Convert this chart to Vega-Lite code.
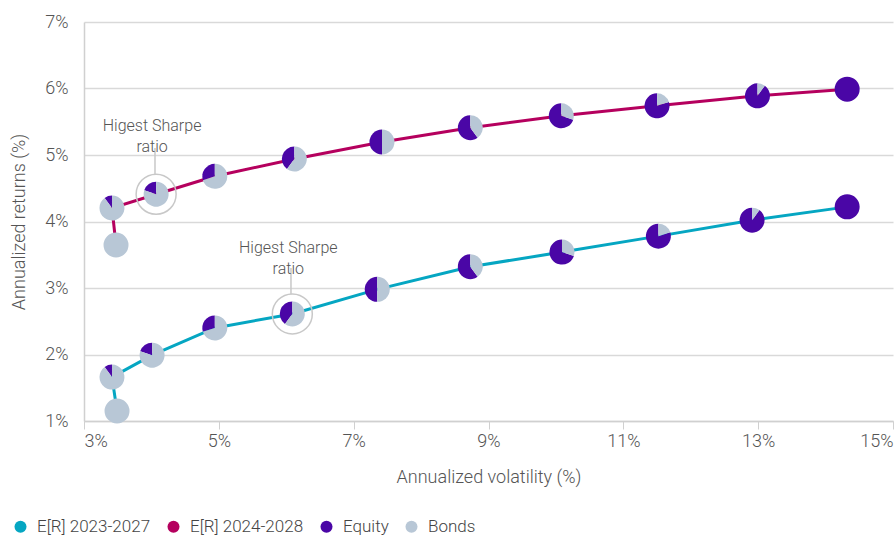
{
  "$schema": "https://vega.github.io/schema/vega-lite/v6.json",
  "width": 809,
  "height": 399,
  "autosize": {"type": "none"},
  "padding": {"left": 84, "top": 22, "right": 3, "bottom": 118},
  "background": "white",
  "config": {
    "view": {"stroke": null},
    "font": "Roboto",
    "axis": {"labelFont": "Roboto", "titleFont": "Roboto", "labelColor": "#555555", "titleColor": "#555555", "titleFontWeight": 300, "labelFontWeight": 300, "labelFontSize": 18, "titleFontSize": 18},
    "legend": {"labelFont": "Roboto", "labelFontWeight": 300}
  },
  "datasets": {
    "pts": [
      {"series": "E[R] 2024-2028", "equity": 0.0, "vol": 3.475, "ret": 3.647},
      {"series": "E[R] 2024-2028", "equity": 0.1, "vol": 3.415, "ret": 4.203},
      {"series": "E[R] 2024-2028", "equity": 0.2, "vol": 4.07, "ret": 4.41},
      {"series": "E[R] 2024-2028", "equity": 0.3, "vol": 4.94, "ret": 4.68},
      {"series": "E[R] 2024-2028", "equity": 0.4, "vol": 6.12, "ret": 4.94},
      {"series": "E[R] 2024-2028", "equity": 0.5, "vol": 7.42, "ret": 5.195},
      {"series": "E[R] 2024-2028", "equity": 0.6, "vol": 8.73, "ret": 5.41},
      {"series": "E[R] 2024-2028", "equity": 0.7, "vol": 10.08, "ret": 5.59},
      {"series": "E[R] 2024-2028", "equity": 0.8, "vol": 11.5, "ret": 5.74},
      {"series": "E[R] 2024-2028", "equity": 0.9, "vol": 12.99, "ret": 5.89},
      {"series": "E[R] 2024-2028", "equity": 1.0, "vol": 14.32, "ret": 5.99},
      {"series": "E[R] 2023-2027", "equity": 0.0, "vol": 3.49, "ret": 1.15},
      {"series": "E[R] 2023-2027", "equity": 0.1, "vol": 3.415, "ret": 1.66},
      {"series": "E[R] 2023-2027", "equity": 0.2, "vol": 4.01, "ret": 1.99},
      {"series": "E[R] 2023-2027", "equity": 0.3, "vol": 4.94, "ret": 2.4},
      {"series": "E[R] 2023-2027", "equity": 0.4, "vol": 6.09, "ret": 2.61},
      {"series": "E[R] 2023-2027", "equity": 0.5, "vol": 7.35, "ret": 2.98},
      {"series": "E[R] 2023-2027", "equity": 0.6, "vol": 8.73, "ret": 3.32},
      {"series": "E[R] 2023-2027", "equity": 0.7, "vol": 10.09, "ret": 3.54},
      {"series": "E[R] 2023-2027", "equity": 0.8, "vol": 11.52, "ret": 3.78},
      {"series": "E[R] 2023-2027", "equity": 0.9, "vol": 12.91, "ret": 4.02},
      {"series": "E[R] 2023-2027", "equity": 1.0, "vol": 14.32, "ret": 4.22}
    ],
    "best": [
      {"series": "E[R] 2024-2028", "vol": 4.07, "ret": 4.41},
      {"series": "E[R] 2023-2027", "vol": 6.09, "ret": 2.61}
    ],
    "notes": [
      {"label": "Higest Sharpe\nratio", "vol": 4.01, "ret": 5.436},
      {"label": "Higest Sharpe\nratio", "vol": 6.03, "ret": 3.6}
    ],
    "leaders": [
      {"vol": 4.053, "ret": 5.105, "ret2": 4.714},
      {"vol": 6.07, "ret": 3.3, "ret2": 2.91}
    ]
  },
  "layer": [
    {
      "data": {"name": "pts"},
      "mark": {"type": "line", "strokeWidth": 3},
      "encoding": {
        "x": {"field": "vol", "type": "quantitative",
          "scale": {"domain": [3, 15], "nice": false, "zero": false},
          "axis": {"title": "Annualized volatility (%)", "values": [3, 5, 7, 9, 11, 13, 15], "labelExpr": "datum.value + '%'", "grid": false, "domain": true, "domainColor": "#d0d0d0", "domainWidth": 1.5, "ticks": true, "tickColor": "#d0d0d0", "tickSize": 8, "labelPadding": 3, "titlePadding": 18}},
        "y": {"field": "ret", "type": "quantitative",
          "scale": {"domain": [1, 7], "nice": false, "zero": false},
          "axis": {"title": "Annualized returns (%)", "values": [1, 2, 3, 4, 5, 6, 7], "labelExpr": "datum.value + '%'", "grid": true, "gridColor": "#d9d9d9", "gridWidth": 1.5, "domain": true, "domainColor": "#d0d0d0", "domainWidth": 1.5, "ticks": false, "labelPadding": 16, "titlePadding": 16}},
        "order": {"field": "equity", "type": "quantitative"},
        "color": {"field": "series", "type": "nominal",
          "scale": {"domain": ["E[R] 2023-2027", "E[R] 2024-2028", "Equity", "Bonds"], "range": ["#05A6C2", "#B5005E", "#4A06A6", "#B8C7D6"]},
          "legend": {"title": null, "orient": "none", "legendX": -72, "legendY": 496, "direction": "horizontal", "columns": 4, "symbolType": "circle", "symbolSize": 144, "labelFontSize": 17, "labelColor": "#444444", "labelOffset": 8, "columnPadding": 14, "padding": 0,
            "encode": {"symbols": {"update": {"fill": {"scale": "color", "field": "value"}, "fillOpacity": {"value": 1}, "strokeWidth": {"value": 0}}}}}}
      }
    },
    {
      "data": {"name": "best"},
      "mark": {"type": "point", "shape": "circle", "filled": false, "stroke": "#c8c8c8", "strokeWidth": 1.5, "size": 1600, "opacity": 1},
      "encoding": {
        "x": {"field": "vol", "type": "quantitative"},
        "y": {"field": "ret", "type": "quantitative"}
      }
    },
    {
      "data": {"name": "pts"},
      "mark": {"type": "arc", "radius": 12.5},
      "encoding": {
        "x": {"field": "vol", "type": "quantitative"},
        "y": {"field": "ret", "type": "quantitative"},
        "theta": {"field": "equity", "type": "quantitative", "stack": null, "scale": {"domain": [0, 1], "range": [6.283185307, 0]}},
        "theta2": {"datum": 0},
        "color": {"datum": "Equity"}
      }
    },
    {
      "data": {"name": "pts"},
      "mark": {"type": "arc", "radius": 12.5},
      "encoding": {
        "x": {"field": "vol", "type": "quantitative"},
        "y": {"field": "ret", "type": "quantitative"},
        "theta": {"field": "equity", "type": "quantitative", "stack": null},
        "theta2": {"datum": 1},
        "color": {"datum": "Bonds"}
      }
    },
    {
      "data": {"name": "leaders"},
      "mark": {"type": "rule", "color": "#c8c8c8", "strokeWidth": 1.5},
      "encoding": {
        "x": {"field": "vol", "type": "quantitative"},
        "y": {"field": "ret", "type": "quantitative"},
        "y2": {"field": "ret2"}
      }
    },
    {
      "data": {"name": "notes"},
      "mark": {"type": "text", "font": "Roboto", "fontWeight": 300, "fontSize": 16, "color": "#555555", "lineBreak": "\n", "lineHeight": 21, "align": "center", "baseline": "middle"},
      "encoding": {
        "x": {"field": "vol", "type": "quantitative"},
        "y": {"field": "ret", "type": "quantitative"},
        "text": {"field": "label"}
      }
    }
  ]
}
